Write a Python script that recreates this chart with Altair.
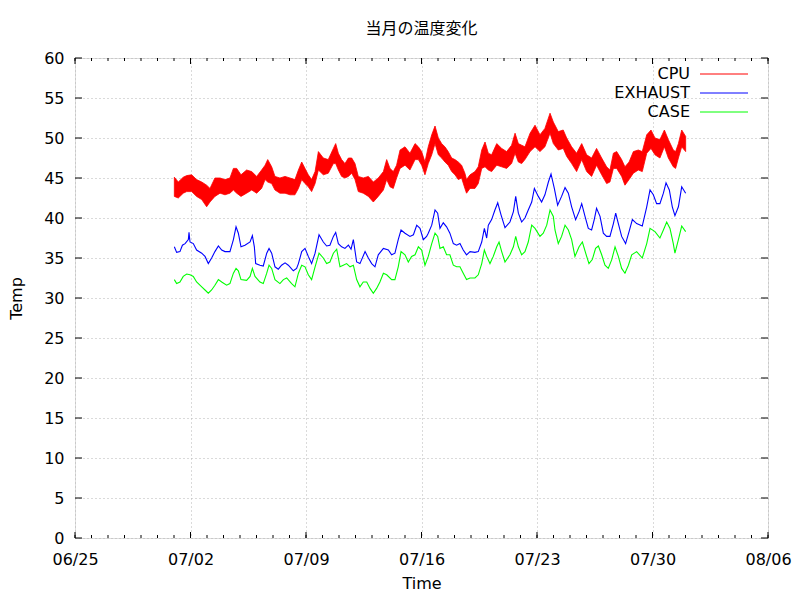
import altair as alt
import pandas as pd

# ---- data (t = days since 07/01 00:00) ----
CPU_T = [0.02, 0.26, 0.56, 0.77, 1.07, 1.37, 1.68, 1.98, 2.18, 2.48, 2.79, 3.09, 3.39, 3.60, 3.80, 4.06, 4.40, 4.71,
         5.01, 5.31, 5.52, 5.68, 5.92, 6.12, 6.42, 6.73, 7.03, 7.33, 7.54, 7.74, 7.94, 8.14, 8.34, 8.55, 8.75, 9.05,
         9.35, 9.66, 9.80, 9.96, 10.16, 10.36, 10.57, 10.77, 10.97, 11.17, 11.47, 11.78, 12.08, 12.38, 12.69, 12.89,
         13.09, 13.29, 13.49, 13.70, 14.00, 14.30, 14.61, 14.81, 15.01, 15.21, 15.41, 15.62, 15.82, 16.02, 16.22,
         16.42, 16.62, 16.83, 17.03, 17.23, 17.43, 17.63, 17.73, 17.94, 18.24, 18.44, 18.65, 18.85, 19.05, 19.25,
         19.56, 19.86, 20.16, 20.46, 20.67, 20.87, 21.07, 21.27, 21.58, 21.88, 22.18, 22.48, 22.79, 22.99, 23.29,
         23.59, 23.80, 24.10, 24.40, 24.71, 25.01, 25.31, 25.61, 25.92, 26.22, 26.42, 26.63, 26.83, 27.13, 27.33,
         27.58, 27.84, 28.14, 28.38, 28.65, 28.91, 29.15, 29.45, 29.72, 29.96, 30.26, 30.40, 30.57, 30.77, 31.01]
CPU_HI = [45.1, 44.5, 45.1, 45.3, 45.4, 44.8, 44.5, 44.1, 43.7, 45.0, 45.0, 44.8, 45.0, 46.2, 46.2, 45.4, 46.0, 45.8,
          45.2, 46.0, 46.6, 47.3, 46.4, 45.2, 45.0, 45.2, 45.0, 44.8, 46.0, 47.0, 46.2, 45.4, 44.8, 45.8, 48.3, 47.5,
          47.3, 48.7, 49.3, 48.1, 47.3, 46.8, 47.5, 47.5, 46.8, 45.2, 45.0, 45.2, 44.5, 45.0, 45.8, 47.3,
          46.2, 45.8, 46.6, 48.5, 48.9, 48.1, 49.3, 48.9, 48.3, 47.0, 48.9, 50.4, 51.5, 50.0, 49.3,
          48.9, 48.3, 47.5, 47.3, 47.0, 46.6, 45.6, 44.8, 45.4, 45.8, 46.4, 48.5, 49.5, 48.1, 47.9,
          49.3, 48.7, 48.3, 49.1, 50.6, 49.3, 49.1, 48.9, 50.6, 51.6, 50.4, 51.2, 53.1, 52.0, 50.8,
          51.0, 50.0, 48.9, 48.1, 49.3, 47.9, 47.5, 48.7, 47.5, 46.4, 46.0, 48.1, 48.3, 47.3, 46.4,
          47.0, 48.3, 48.5, 48.3, 50.4, 51.0, 50.0, 49.8, 51.0, 49.8, 48.5, 48.3, 49.3, 51.0, 50.2]
CPU_LO = [42.7, 42.5, 43.1, 43.3, 43.3, 42.7, 42.3, 41.4, 42.0, 42.7, 43.1, 42.9, 43.1, 43.5, 43.1, 42.7, 43.1, 43.5,
          43.1, 43.7, 44.8, 44.5, 44.3, 43.5, 43.1, 43.1, 42.9, 42.9, 43.7, 44.8, 44.3, 43.9, 43.3, 44.3, 46.0, 45.4,
          45.6, 46.8, 46.8, 46.0, 45.2, 45.0, 45.2, 45.6, 44.8, 43.3, 43.1, 42.7, 42.0, 42.7, 43.5, 44.8,
          43.9, 43.7, 45.0, 46.2, 46.6, 46.0, 47.3, 47.3, 46.6, 45.4, 46.8, 47.9, 49.3, 47.9, 47.5,
          47.0, 46.6, 45.8, 45.4, 44.8, 45.0, 43.7, 43.1, 43.7, 43.7, 44.3, 46.2, 46.4, 46.0, 45.8,
          46.6, 46.4, 46.2, 46.8, 48.1, 47.0, 46.8, 47.3, 48.3, 48.9, 48.3, 48.9, 50.6, 49.3, 48.5,
          48.7, 47.7, 46.8, 45.8, 47.3, 45.8, 45.2, 46.6, 45.4, 44.3, 44.5, 46.2, 46.2, 45.2, 44.1,
          44.8, 45.6, 46.0, 45.8, 48.1, 48.7, 47.9, 47.5, 48.9, 47.5, 46.4, 46.2, 47.5, 48.9, 48.3]

EXH_T = [0.02, 0.16, 0.36, 0.51, 0.67, 0.87, 0.91, 0.97, 1.17, 1.37, 1.68, 1.88, 2.08, 2.28, 2.48, 2.69, 2.89, 3.09,
         3.39, 3.60, 3.76, 3.90, 4.06, 4.30, 4.61, 4.75, 4.87, 4.95, 5.21, 5.41, 5.62, 5.76, 5.92, 6.12, 6.32, 6.52,
         6.73, 6.93, 7.23, 7.43, 7.54, 7.74, 7.94, 8.14, 8.34, 8.55, 8.79, 9.05, 9.25, 9.45, 9.66, 9.80, 9.96, 10.16,
         10.36, 10.57, 10.73, 10.87, 11.07, 11.27, 11.58, 11.78, 11.98, 12.18, 12.38, 12.69, 12.99, 13.19, 13.39,
         13.59, 13.76, 14.00, 14.30, 14.51, 14.71, 14.91, 15.11, 15.31, 15.41, 15.62, 15.82, 15.98, 16.12, 16.32,
         16.52, 16.72, 16.93, 17.13, 17.33, 17.53, 17.73, 17.94, 18.24, 18.44, 18.65, 18.81, 18.95, 19.05, 19.25,
         19.45, 19.62, 19.82, 20.06, 20.36, 20.57, 20.71, 20.87, 21.07, 21.27, 21.47, 21.68, 21.84, 22.08, 22.28,
         22.48, 22.69, 22.85, 23.05, 23.25, 23.49, 23.70, 23.90, 24.10, 24.34, 24.55, 24.71, 24.91, 25.11, 25.31,
         25.47, 25.61, 25.82, 26.02, 26.22, 26.42, 26.63, 26.77, 26.93, 27.13, 27.37, 27.58, 27.78, 28.04, 28.38,
         28.65, 28.85, 29.05, 29.25, 29.45, 29.66, 29.82, 30.02, 30.20, 30.36, 30.57, 30.77, 31.01]
EXH_V = [36.4, 35.7, 35.8, 36.6, 36.8, 37.3, 38.2, 37.0, 36.8, 36.0, 35.6, 35.2, 34.3, 35.0, 35.8, 36.5, 36.0, 35.8,
         35.8, 37.3, 38.9, 38.1, 36.4, 36.6, 37.0, 37.8, 36.4, 34.3, 34.1, 34.0, 35.6, 36.2, 35.6, 33.9, 33.6, 34.1,
         34.4, 34.1, 33.4, 33.7, 34.3, 35.8, 36.2, 35.2, 34.3, 35.6, 37.9, 37.0, 36.5, 36.6, 37.7, 38.2, 36.8, 36.4,
         36.2, 36.6, 36.1, 37.3, 34.5, 34.3, 35.8, 35.0, 34.3, 33.9, 35.4, 36.2, 36.0, 35.4, 35.6,
         37.3, 38.5, 38.1, 37.7, 37.9, 39.1, 38.7, 37.3, 37.7, 38.1, 39.1, 41.0, 40.6, 38.7, 39.4,
         38.9, 38.1, 36.8, 36.6, 36.8, 36.0, 35.4, 35.8, 35.7, 35.8, 37.0, 38.7, 37.5, 39.1, 39.8,
         41.0, 41.9, 40.4, 38.8, 39.5, 40.8, 42.7, 40.6, 39.5, 40.0, 41.0, 42.0, 43.7, 42.7, 42.0,
         42.9, 44.5, 45.5, 43.7, 41.6, 42.7, 43.8, 43.1, 41.4, 39.8, 40.8, 41.8, 40.2, 38.7, 38.5,
         39.8, 41.2, 40.2, 38.1, 37.7, 37.7, 39.3, 40.6, 39.3, 37.7, 36.8, 38.3, 39.8, 39.3, 39.0,
         41.4, 43.5, 42.9, 41.8, 41.8, 43.1, 44.4, 43.5, 41.4, 40.3, 41.4, 43.9, 43.1]

CASE_T = [0.02, 0.16, 0.36, 0.56, 0.77, 0.97, 1.17, 1.37, 1.68, 1.88, 2.08, 2.28, 2.48, 2.69, 2.89, 3.19, 3.39, 3.60,
          3.76, 3.90, 4.06, 4.40, 4.61, 4.75, 4.91, 5.21, 5.41, 5.62, 5.76, 5.92, 6.12, 6.42, 6.63, 6.83, 7.13, 7.33,
          7.54, 7.74, 7.94, 8.14, 8.34, 8.55, 8.79, 9.05, 9.25, 9.45, 9.66, 9.86, 10.06, 10.26, 10.46, 10.67, 10.87,
          11.07, 11.27, 11.47, 11.68, 11.88, 12.08, 12.28, 12.48, 12.69, 12.89, 13.19, 13.39, 13.59, 13.76, 14.00,
          14.20, 14.40, 14.61, 14.81, 15.01, 15.21, 15.41, 15.62, 15.82, 15.98, 16.12, 16.32, 16.52, 16.72, 16.93,
          17.13, 17.33, 17.53, 17.73, 17.94, 18.24, 18.44, 18.65, 18.81, 18.95, 19.15, 19.35, 19.56, 19.70, 19.86,
          20.06, 20.36, 20.57, 20.71, 20.87, 21.07, 21.27, 21.47, 21.68, 21.88, 22.18, 22.38, 22.59, 22.79, 22.99,
          23.09, 23.29, 23.49, 23.70, 23.90, 24.10, 24.30, 24.55, 24.75, 24.95, 25.15, 25.35, 25.55, 25.72, 25.92,
          26.12, 26.32, 26.53, 26.73, 26.93, 27.13, 27.33, 27.54, 27.74, 28.04, 28.38, 28.65, 28.85, 29.15, 29.45,
          29.66, 29.86, 30.06, 30.26, 30.36, 30.57, 30.77, 31.01]
CASE_V = [32.3, 31.8, 32.0, 32.7, 33.0, 32.9, 32.7, 32.0, 31.4, 31.0, 30.6, 31.0, 31.6, 32.3, 32.0, 31.6, 31.8, 33.1,
          33.7, 33.4, 32.3, 32.2, 32.7, 33.7, 32.7, 32.0, 31.8, 33.1, 34.1, 33.7, 32.3, 31.8, 32.3, 32.5, 31.8, 31.4,
          33.1, 34.1, 33.9, 32.9, 32.3, 33.9, 35.6, 35.0, 34.3, 34.5, 35.6, 36.1, 33.9, 34.1, 34.3, 33.9, 34.1,
          32.3, 31.4, 32.0, 32.0, 31.2, 30.6, 31.2, 32.0, 33.1, 32.9, 32.3, 32.3, 33.9, 35.8, 35.4,
          34.5, 35.2, 35.4, 36.4, 36.0, 34.1, 35.2, 36.8, 38.1, 37.7, 36.2, 36.4, 35.4, 35.4, 34.1,
          33.9, 33.9, 33.1, 32.3, 32.5, 32.5, 32.9, 34.3, 36.0, 35.2, 34.3, 35.2, 36.4, 37.0, 35.8,
          34.5, 35.4, 36.4, 37.7, 36.4, 35.4, 35.8, 37.0, 39.1, 38.7, 37.7, 38.1, 39.1, 41.0, 40.2,
          38.5, 36.8, 37.7, 39.1, 38.5, 37.3, 35.2, 36.4, 37.0, 35.6, 34.3, 34.8, 36.2, 36.5, 35.4,
          34.1, 33.7, 34.8, 36.4, 35.2, 33.7, 33.1, 34.1, 35.4, 35.8, 35.0, 36.8, 38.7, 38.3, 37.5,
          38.5, 39.5, 38.7, 36.8, 35.6, 37.3, 39.0, 38.3]

MAJOR_TICKS = ["06/25", "07/02", "07/09", "07/16", "07/23", "07/30", "08/06"]
Y_TICKS = list(range(0, 61, 5))
SERIES = ["CPU", "EXHAUST", "CASE"]
COLORS = ["#ff0000", "#0000ff", "#00ff00"]

YEAR = 2023
BASE = pd.Timestamp(f"{YEAR}-07-01")


def to_time(ts):
    return [(BASE + pd.Timedelta(days=t)).strftime("%Y-%m-%dT%H:%M:%S") for t in ts]


cpu_df = pd.DataFrame({"time": to_time(CPU_T), "hi": CPU_HI, "lo": CPU_LO})
exh_df = pd.DataFrame({"time": to_time(EXH_T), "v": EXH_V})
case_df = pd.DataFrame({"time": to_time(CASE_T), "v": CASE_V})

major_dates = [pd.Timestamp(f"{YEAR}-{m}") for m in MAJOR_TICKS]
major_df = pd.DataFrame({"time": [d.strftime("%Y-%m-%dT%H:%M:%S") for d in major_dates]})
minor_df = pd.DataFrame({"time": [d.strftime("%Y-%m-%dT%H:%M:%S")
                                  for d in pd.date_range(major_dates[0], major_dates[-1], freq="D")]})
ytick_df = pd.DataFrame({"v": Y_TICKS})

W, H = 693, 480
FONT = "DejaVu Sans"
FS = 16

x_scale = alt.Scale(domain=[alt.DateTime(year=YEAR, month=6, date=25),
                            alt.DateTime(year=YEAR, month=8, date=6)])
y_scale = alt.Scale(domain=[0, 60], nice=False)

x_axis = alt.Axis(values=[alt.DateTime(year=YEAR, month=d.month, date=d.day) for d in major_dates],
                  format="%m/%d", grid=True, gridDash=[1, 3], gridColor="#b4b4b4", ticks=False,
                  domain=False, labelPadding=13, labelFontSize=FS, labelFont=FONT, labelColor="black",
                  labelFlush=False, labelOverlap=False,
                  title="Time", titleFontSize=FS, titleFont=FONT, titleFontWeight="normal",
                  titlePadding=8, titleColor="black")
y_axis = alt.Axis(values=Y_TICKS, grid=True, gridDash=[1, 3], gridColor="#b4b4b4", ticks=False,
                  domain=False, labelPadding=11, labelFontSize=FS, labelFont=FONT, labelColor="black",
                  labelFlush=False, labelOverlap=False,
                  title="Temp", titleFontSize=FS, titleFont=FONT, titleFontWeight="normal",
                  titlePadding=19, titleColor="black")


def X(field="time"):
    return alt.X(f"{field}:T", scale=x_scale, axis=x_axis)


def Y(field):
    return alt.Y(f"{field}:Q", scale=y_scale, axis=y_axis)


cpu = alt.Chart(cpu_df).mark_area(color=COLORS[0], opacity=1, stroke=COLORS[0], strokeWidth=0.8).encode(
    x=X(), y=Y("lo"), y2="hi:Q")
exh = alt.Chart(exh_df).mark_line(color=COLORS[1], strokeWidth=1.1).encode(x=X(), y=Y("v"))
case = alt.Chart(case_df).mark_line(color=COLORS[2], strokeWidth=1.1).encode(x=X(), y=Y("v"))


# inward tick marks on all four sides
def xticks(df, length):
    b = alt.Chart(df).mark_rule(color="black", strokeWidth=1).encode(
        x=X(), y=alt.value(H), y2=alt.value(H - length))
    t = alt.Chart(df).mark_rule(color="black", strokeWidth=1).encode(
        x=X(), y=alt.value(0), y2=alt.value(length))
    return [b, t]


yl = alt.Chart(ytick_df).mark_rule(color="black", strokeWidth=1).encode(
    y=Y("v"), x=alt.value(0), x2=alt.value(7))
yr = alt.Chart(ytick_df).mark_rule(color="black", strokeWidth=1).encode(
    y=Y("v"), x=alt.value(W - 7), x2=alt.value(W))

# gnuplot style key (label then sample line)
legend_layers = []
for i, (name, col) in enumerate(zip(SERIES, COLORS)):
    ly = 16 + 19 * i
    d = pd.DataFrame({"name": [name]})
    legend_layers.append(alt.Chart(d).mark_text(align="right", baseline="middle", fontSize=FS, font=FONT,
                                                color="black").encode(
        text="name:N", x=alt.value(615), y=alt.value(ly)))
    legend_layers.append(alt.Chart(d).mark_rule(color=col, strokeWidth=1).encode(
        x=alt.value(625), x2=alt.value(673), y=alt.value(ly)))

chart = alt.layer(
    cpu, exh, case, *xticks(minor_df, 3), *xticks(major_df, 6), yl, yr, *legend_layers
).properties(
    width=W, height=H,
    title=alt.TitleParams("当月の温度変化", font="Noto Sans CJK JP", fontSize=16, fontWeight="normal",
                          color="black", anchor="middle", offset=13),
    autosize=alt.AutoSizeParams(type="none"),
    padding={"left": 67, "top": 50, "right": 24, "bottom": 54},
).configure_view(stroke="black", strokeWidth=1).configure(background="white")

chart.save("out.html", embed_options={"renderer": "svg", "actions": False})
